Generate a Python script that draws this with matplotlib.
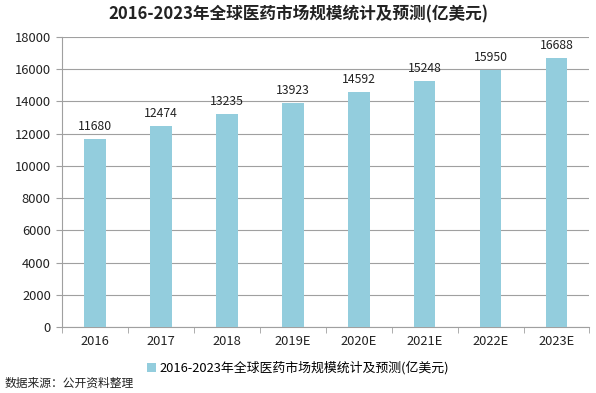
import matplotlib.pyplot as plt

plt.rcParams['font.family'] = ['Noto Sans CJK SC', 'DejaVu Sans']

years = ['2016', '2017', '2018', '2019E', '2020E', '2021E', '2022E', '2023E']
market_size = [11680, 12474, 13235, 13923, 14592, 15248, 15950, 16688]
yticks = list(range(0, 18001, 2000))

title = '2016-2023年全球医药市场规模统计及预测(亿美元)'
source = '数据来源：公开资料整理'
bar_color = '#93CDDD'
grid_color = '#A0A0A0'

fig = plt.figure(figsize=(5.96, 3.93), dpi=100)
ax = fig.add_axes([0.104, 0.168, 0.885, 0.738])

x = list(range(len(years)))
ax.bar(x, market_size, width=0.33, color=bar_color, zorder=3, label=title)
for xi, v in zip(x, market_size):
    ax.text(xi, v + 380, str(v), ha='center', va='bottom', fontsize=8.8, color='#222222')

ax.set_xlim(-0.5, len(years) - 0.5)
ax.set_ylim(0, 18000)
ax.set_yticks(yticks)
ax.set_yticklabels([str(t) for t in yticks])
ax.set_xticks(x)
ax.set_xticklabels(years)
ax.tick_params(axis='both', labelsize=9.3, colors='#222222', length=0)
ax.tick_params(axis='y', length=4, color=grid_color, pad=4)
ax.tick_params(axis='x', pad=6)

# category boundary ticks on the x axis
ax.set_xticks([i - 0.5 for i in range(len(years) + 1)], minor=True)
ax.tick_params(axis='x', which='minor', length=4, color=grid_color)

ax.grid(axis='y', color=grid_color, linewidth=0.8, zorder=0)
for side in ['top', 'right']:
    ax.spines[side].set_visible(False)
ax.spines['left'].set_color(grid_color)
ax.spines['bottom'].set_color(grid_color)

fig.text(0.5, 0.963, title, ha='center', va='center', fontsize=12, fontweight='bold', color='#222222')
ax.legend(loc='center', frameon=False, fontsize=9.3, handlelength=0.7, handleheight=0.7,
          handletextpad=0.2, bbox_to_anchor=(0.5, 1 - 368 / 393), bbox_transform=fig.transFigure)
fig.text(0.008, 1 - 383 / 393, source, ha='left', va='center', fontsize=8.5, color='#222222')

fig.savefig('out.png', dpi=100)
